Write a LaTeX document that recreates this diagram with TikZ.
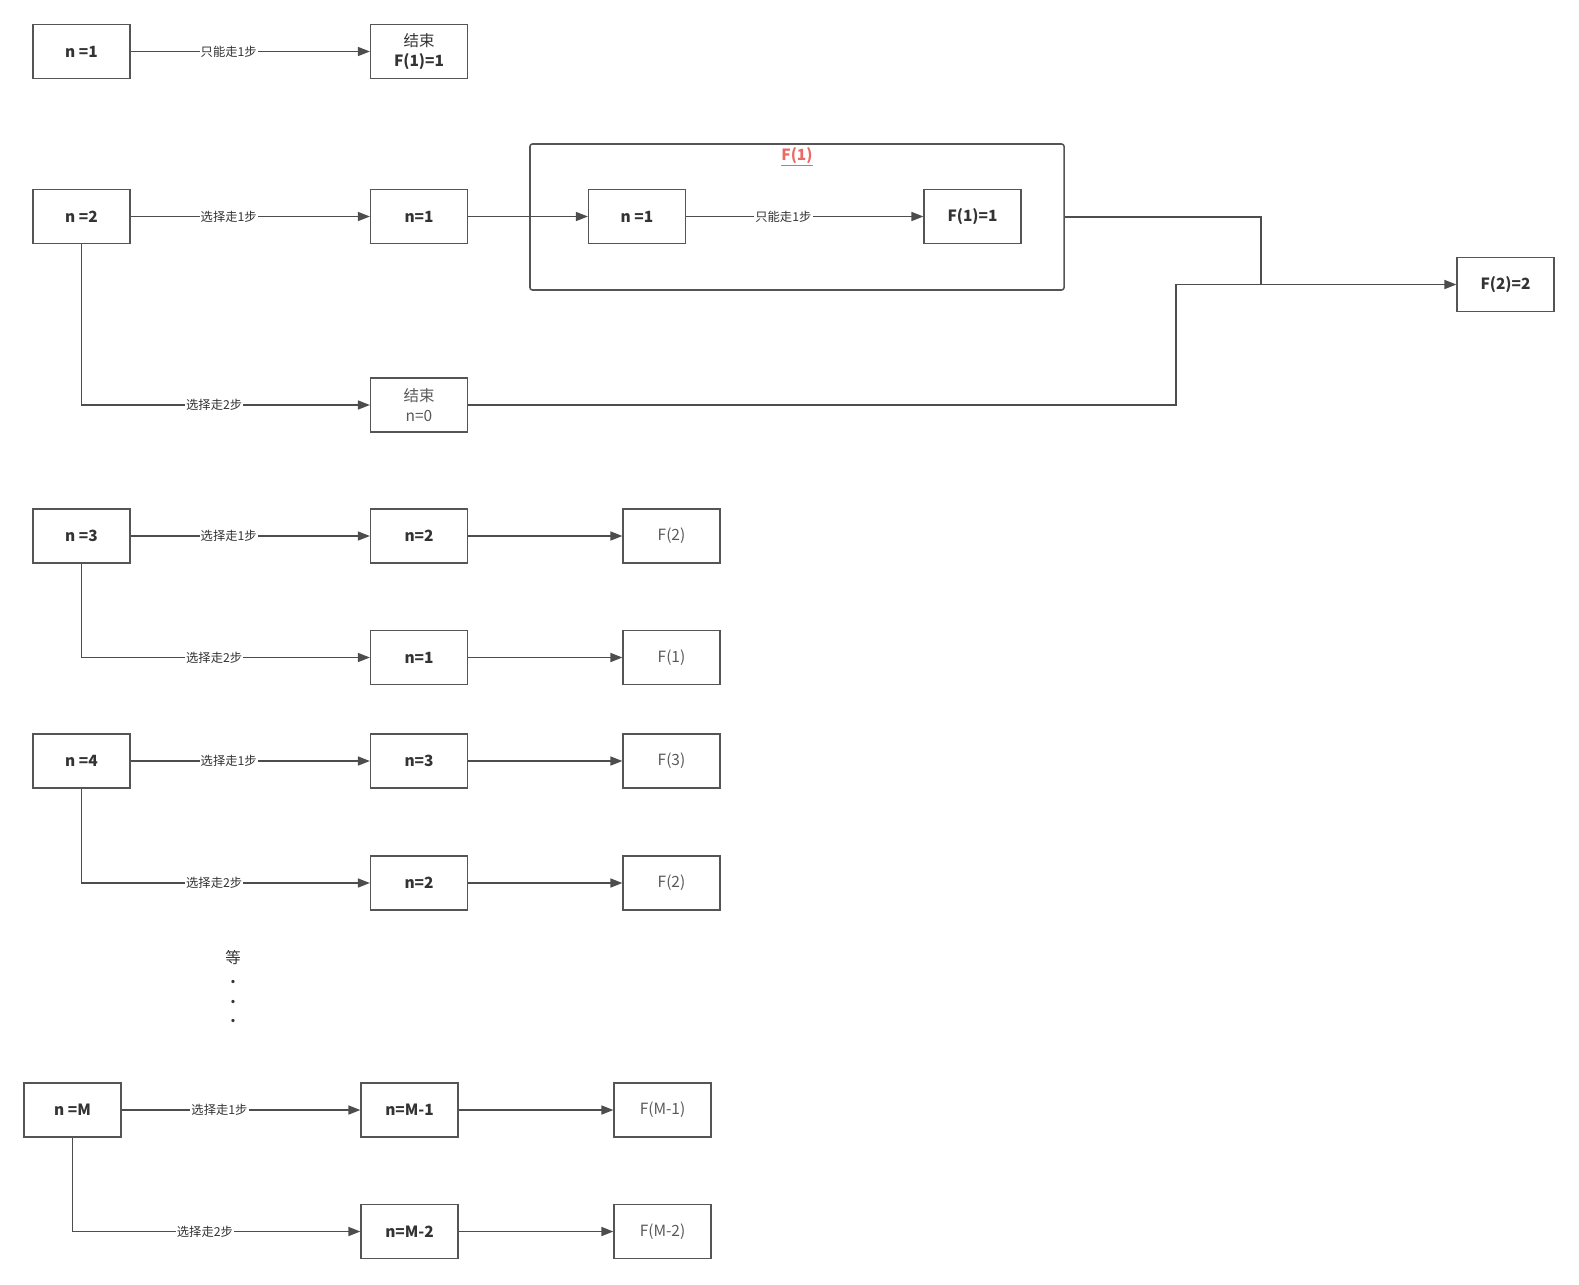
\documentclass[tikz,border=0pt]{standalone}
\usepackage{fontspec}
\setmainfont{Noto Sans CJK SC}
\usetikzlibrary{arrows.meta}
\definecolor{boxgray}{HTML}{555555}
\definecolor{linegray}{HTML}{4D4D4D}
\definecolor{textdark}{HTML}{333333}
\definecolor{textgray}{HTML}{595959}
\definecolor{titlered}{HTML}{EA6B66}

\begin{document}
\begin{tikzpicture}[
  x=0.03cm, y=-0.03cm,
  fib01box/.style = {draw=boxgray, line width=1.3pt, minimum width=2.9cm,
    minimum height=1.63cm, inner sep=0pt, align=center, text=textdark,
    font=\fontsize{13.2}{17}\selectfont\bfseries},
  fib01val/.style = {fib01box, text=textgray, font=\fontsize{13.2}{17}\selectfont},
  fib01line/.style = {draw=linegray, line width=1.3pt},
  fib01arr/.style = {fib01line, -{Triangle[length=0.36cm, width=0.27cm]}},
  fib01lbl/.style = {fill=white, inner sep=1pt, text=textdark,
    font=\fontsize{10.5}{12}\selectfont}
]
  \useasboundingbox (0,0) rectangle (1579,1284);
  % 第一行 n=1
  \node[fib01box] (r1n) at (81.5,51.5) {n =1};
  \node[fib01box] (r1end) at (419,51.5) {{\mdseries 结束}\\F(1)=1};
  \draw[fib01arr] (r1n) -- node[fib01lbl, pos=0.41] {只能走1步} (r1end);
  % 第二行 n=2
  \node[fib01box] (r2n) at (81.5,216.5) {n =2};
  \node[fib01box] (r2a) at (419,216.5) {n=1};
  \node[draw=boxgray, line width=1.3pt, rounded corners=2pt, minimum width=16.02cm,
    minimum height=4.38cm] (f1box) at (797,217) {};
  \node[text=titlered, font=\fontsize{13.2}{15}\selectfont\bfseries] (f1ttl)
    at (797,157) {\underline{F(1)}};
  \node[fib01box] (r2b) at (637,216.5) {n =1};
  \node[fib01box] (r2c) at (972.5,216.5) {F(1)=1};
  \node[fib01box] (r2res) at (1505.5,284.5) {F(2)=2};
  \node[fib01val] (r2end) at (419,405) {结束\\n=0};
  \coordinate (r2j) at (1261,284.5);
  \coordinate (r2k) at (1176,284.5);
  \draw[fib01arr] (r2n) -- node[fib01lbl, pos=0.41] {选择走1步} (r2a);
  \draw[fib01arr] (r2a) -- (r2b);
  \draw[fib01arr] (r2b) -- node[fib01lbl, pos=0.41] {只能走1步} (r2c);
  \draw[fib01line] (f1box.east) -| (r2j);
  \draw[fib01arr] (r2j) -- (r2res);
  \draw[fib01line] (r2end.east) -| (r2k) -- (r2j);
  \draw[fib01arr] (r2n) |- node[fib01lbl, pos=0.73] {选择走2步} (r2end);
  % 第三行 n=3
  \node[fib01box] (r3n) at (81.5,536) {n =3};
  \node[fib01box] (r3a) at (419,536) {n=2};
  \node[fib01val] (r3fa) at (671.5,536) {F(2)};
  \node[fib01box] (r3b) at (419,657.5) {n=1};
  \node[fib01val] (r3fb) at (671.5,657.5) {F(1)};
  \draw[fib01arr] (r3n) -- node[fib01lbl, pos=0.41] {选择走1步} (r3a);
  \draw[fib01arr] (r3a) -- (r3fa);
  \draw[fib01arr] (r3n) |- node[fib01lbl, pos=0.73] {选择走2步} (r3b);
  \draw[fib01arr] (r3b) -- (r3fb);
  % 第四行 n=4
  \node[fib01box] (r4n) at (81.5,761) {n =4};
  \node[fib01box] (r4a) at (419,761) {n=3};
  \node[fib01val] (r4fa) at (671.5,761) {F(3)};
  \node[fib01box] (r4b) at (419,883) {n=2};
  \node[fib01val] (r4fb) at (671.5,883) {F(2)};
  \draw[fib01arr] (r4n) -- node[fib01lbl, pos=0.41] {选择走1步} (r4a);
  \draw[fib01arr] (r4a) -- (r4fa);
  \draw[fib01arr] (r4n) |- node[fib01lbl, pos=0.73] {选择走2步} (r4b);
  \draw[fib01arr] (r4b) -- (r4fb);
  % 省略
  \node[anchor=north, align=center, text=textdark,
    font=\fontsize{13.2}{17}\selectfont] (etc) at (233,946)
    {等\\\textbf{.}\\\textbf{.}\\\textbf{.}};
  % 最后一行 n=M
  \node[fib01box] (rmn) at (72.5,1110) {n =M};
  \node[fib01box] (rma) at (409.5,1110) {n=M-1};
  \node[fib01val] (rmfa) at (662.5,1110) {F(M-1)};
  \node[fib01box] (rmb) at (409.5,1231.5) {n=M-2};
  \node[fib01val] (rmfb) at (662.5,1231.5) {F(M-2)};
  \draw[fib01arr] (rmn) -- node[fib01lbl, pos=0.41] {选择走1步} (rma);
  \draw[fib01arr] (rma) -- (rmfa);
  \draw[fib01arr] (rmn) |- node[fib01lbl, pos=0.73] {选择走2步} (rmb);
  \draw[fib01arr] (rmb) -- (rmfb);
\end{tikzpicture}
\end{document}
